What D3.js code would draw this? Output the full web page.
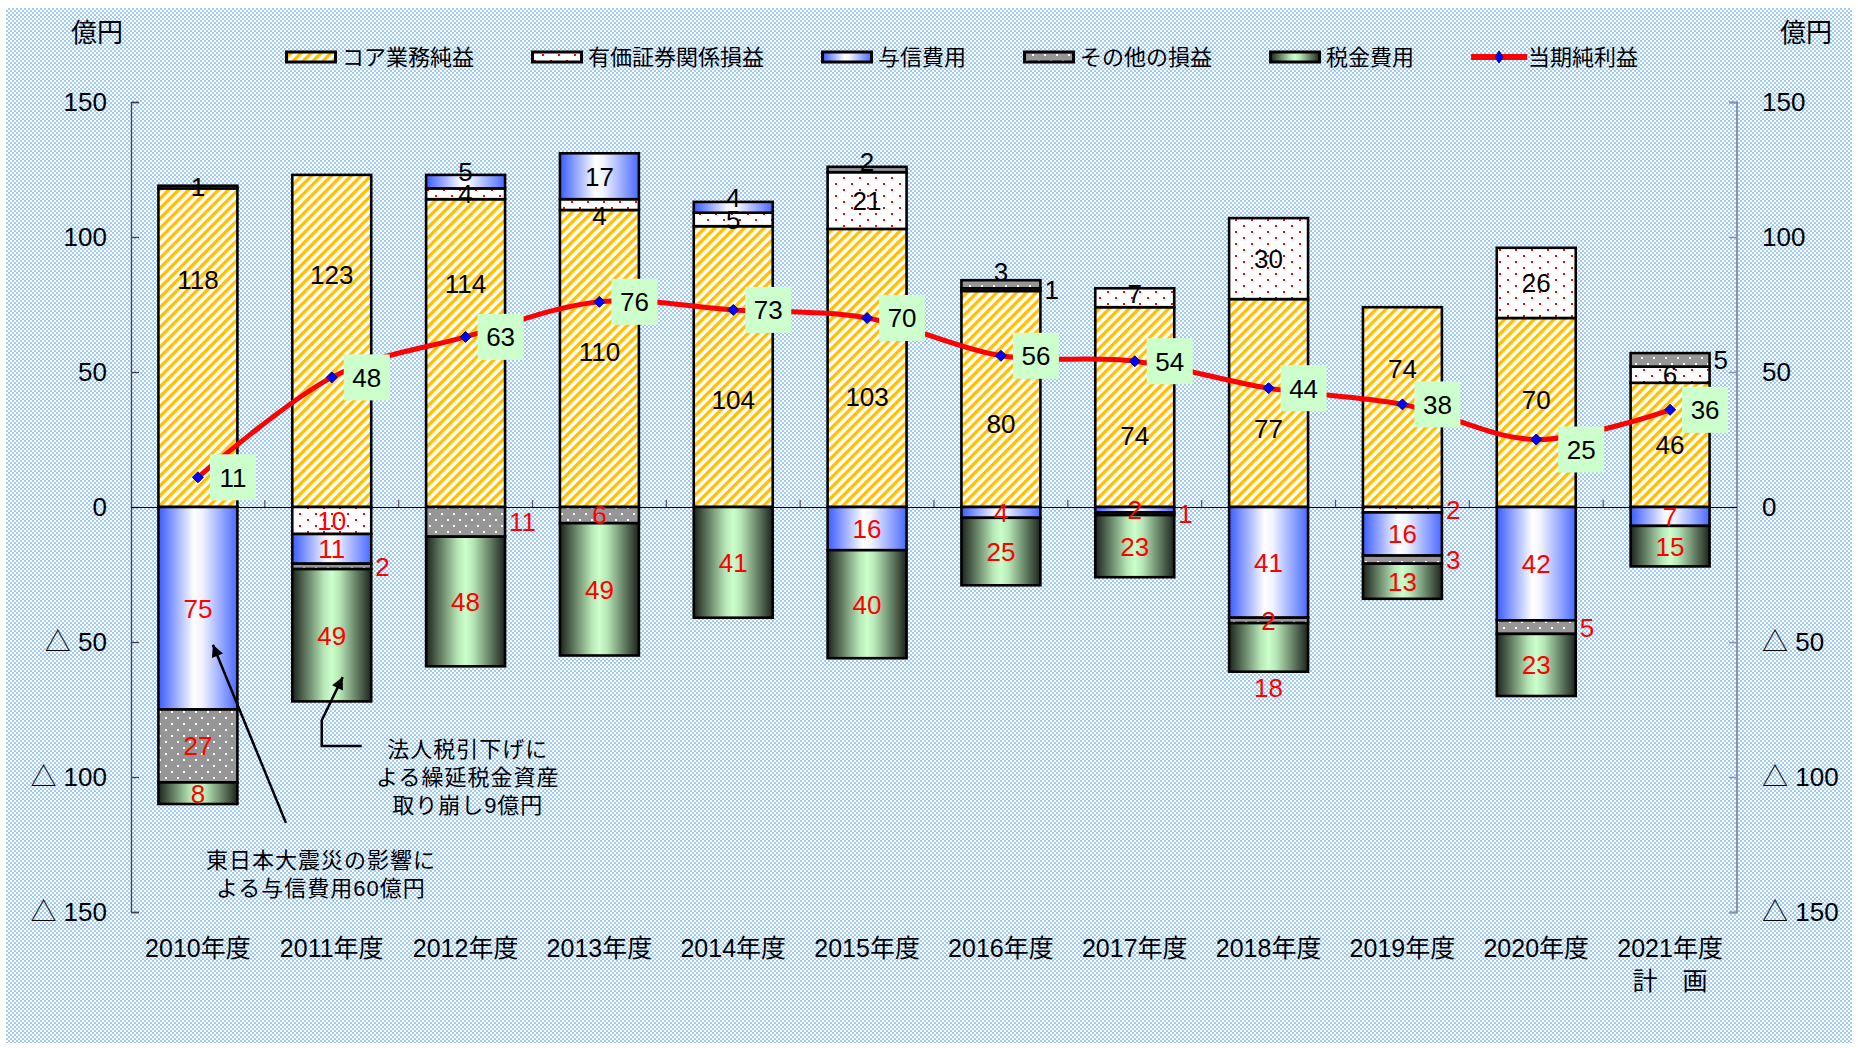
<!DOCTYPE html>
<html><head><meta charset="utf-8">
<script src="https://cdn.jsdelivr.net/npm/d3@7"></script>
<style>html,body{margin:0;padding:0;background:#fff;}svg{display:block;}</style>
</head><body><svg id="c" width="1858" height="1048"></svg>
<script>
// ---------- data ----------
const years = ["2010年度","2011年度","2012年度","2013年度","2014年度","2015年度","2016年度","2017年度","2018年度","2019年度","2020年度","2021年度"];
const yearSub = ["","","","","","","","","","","","計　画"];
const core       = [118,123,114,110,104,103,80,74,77,74,70,46];
const securities = [1,-10,4,4,5,21,1,7,30,-2,26,6];
const credit     = [-75,-11,5,17,4,-16,-4,-2,-41,-16,-42,-7];
const other      = [-27,-2,-11,-6,0,2,3,-1,-2,-3,-5,5];
const tax        = [-8,-49,-48,-49,-41,-40,-25,-23,-18,-13,-23,-15];
const netIncome  = [11,48,63,76,73,70,56,54,44,38,25,36];
const tickValues = [-150,-100,-50,0,50,100,150];
const tickLabels = ["△ 150","△ 100","△ 50","0","50","100","150"];
const legendNames = ["コア業務純益","有価証券関係損益","与信費用","その他の損益","税金費用","当期純利益"];
const unitLabel = "億円";
const note1 = ["法人税引下げに","よる繰延税金資産","取り崩し9億円"];
const note2 = ["東日本大震災の影響に","よる与信費用60億円"];

// label placement (layout only): exceptions keyed yearIndex-seriesIndex
const labelPlacement = {"1-3":"right","2-3":"right","6-1":"right","7-3":"right","9-1":"right","9-3":"right","10-3":"right","11-3":"right","8-4":"below"};
const labelNudge = {"0-0":-68,"1-0":-66,"2-0":-69,"3-0":-7,"4-0":33,"5-0":29,"6-0":25,"7-0":29,"8-0":26,"9-0":-38,"10-0":-13,
  "2-2":-10,"3-1":11,"4-2":-10,"5-3":-8,"6-3":-13,"7-1":-4};
const netLabelShift = {10:[10,10]};

// ---------- setup ----------
const svg = d3.select("#c");
const NUM = "'Liberation Sans','Noto Sans CJK JP',sans-serif";
const JP = "'Noto Sans CJK JP',sans-serif";
const defs = svg.append("defs");

// background pattern
const bg = defs.append("pattern").attr("id","bgp").attr("width",4).attr("height",4).attr("patternUnits","userSpaceOnUse");
bg.append("rect").attr("width",4).attr("height",4).attr("fill","#ffffff");
bg.append("rect").attr("x",0).attr("y",0).attr("width",2).attr("height",2).attr("fill","#9fcbf6");
bg.append("rect").attr("x",2).attr("y",2).attr("width",2).attr("height",2).attr("fill","#9fcbf6");

// core: diagonal stripes
const pc = defs.append("pattern").attr("id","pCore").attr("width",7).attr("height",7)
  .attr("patternUnits","userSpaceOnUse").attr("patternTransform","rotate(45)");
pc.append("rect").attr("width",7).attr("height",7).attr("fill","#ffffff");
pc.append("rect").attr("width",3.4).attr("height",7).attr("fill","#ffc000");

// securities: red dots on white
const ps = defs.append("pattern").attr("id","pSec").attr("width",16).attr("height",12).attr("patternUnits","userSpaceOnUse");
ps.append("rect").attr("width",16).attr("height",12).attr("fill","#ffffff");
ps.append("rect").attr("x",3).attr("y",3).attr("width",2).attr("height",2).attr("fill","#ff0000");
ps.append("rect").attr("x",11).attr("y",9).attr("width",2).attr("height",2).attr("fill","#ff0000");

// other: gray with white dots
const po = defs.append("pattern").attr("id","pOther").attr("width",12).attr("height",12).attr("patternUnits","userSpaceOnUse");
po.append("rect").attr("width",12).attr("height",12).attr("fill","#969696");
po.append("rect").attr("x",3).attr("y",3).attr("width",2).attr("height",2).attr("fill","#ffffff");
po.append("rect").attr("x",9).attr("y",9).attr("width",2).attr("height",2).attr("fill","#ffffff");

// credit: blue-white-blue gradient
const gb = defs.append("linearGradient").attr("id","gCredit").attr("x1",0).attr("x2",1).attr("y1",0).attr("y2",0);
[[0,"#3a5cff"],[0.45,"#ffffff"],[0.55,"#f2f4ff"],[1,"#4a6aff"]].forEach(s=>gb.append("stop").attr("offset",s[0]).attr("stop-color",s[1]));
// tax: dark-green-dark gradient
const gg = defs.append("linearGradient").attr("id","gTax").attr("x1",0).attr("x2",1).attr("y1",0).attr("y2",0);
[[0,"#1c241c"],[0.4,"#b6e6b6"],[0.5,"#ccffcc"],[0.6,"#b6e6b6"],[1,"#1c241c"]].forEach(s=>gg.append("stop").attr("offset",s[0]).attr("stop-color",s[1]));

const fills = ["url(#pCore)","url(#pSec)","url(#gCredit)","url(#pOther)","url(#gTax)"];

// arrow marker
defs.append("marker").attr("id","arr").attr("viewBox","0 0 10 10").attr("refX",10).attr("refY",5)
  .attr("markerWidth",16).attr("markerHeight",12).attr("markerUnits","userSpaceOnUse").attr("orient","auto")
  .append("path").attr("d","M0,0 L10,5 L0,10 z").attr("fill","#000");

svg.append("rect").attr("x",6).attr("y",8).attr("width",1846).attr("height",1035).attr("fill","url(#bgp)");

// scales
const x = d3.scaleBand().domain(years).range([131,1737]).paddingInner(0.41).paddingOuter(0.205);
const y = d3.scaleLinear().domain([-150,150]).range([912,102]);
const xc = i => x(years[i]) + x.bandwidth()/2;

// axes
const gl = svg.append("g").attr("transform","translate(131,0)").call(d3.axisRight(y).tickValues(tickValues).tickSize(8).tickFormat(""));
gl.select(".domain").attr("stroke","#404040").attr("stroke-width",1.3).attr("d","M8,102.5H0.5V912.5H8");
gl.selectAll(".tick line").attr("stroke","#404040").attr("stroke-width",1.3);
const gr = svg.append("g").attr("transform","translate(1737,0)").call(d3.axisLeft(y).tickValues(tickValues).tickSize(8).tickFormat(""));
gr.select(".domain").attr("stroke","#8a94a6").attr("stroke-width",2).attr("d","M-8,102.5H0V912.5H-8");
gr.selectAll(".tick line").attr("stroke","#8a94a6").attr("stroke-width",1.5);

// tick labels
svg.append("g").selectAll("text").data(tickValues).join("text")
  .attr("x",107).attr("y",d=>y(d)).attr("dy","0.36em").attr("text-anchor","end")
  .attr("font-family",NUM).attr("font-size",26).attr("fill","#000")
  .text((d,i)=>tickLabels[i]);
svg.append("g").selectAll("text").data(tickValues).join("text")
  .attr("x",1762).attr("y",d=>y(d)).attr("dy","0.36em").attr("text-anchor","start")
  .attr("font-family",NUM).attr("font-size",26).attr("fill","#000")
  .text((d,i)=>tickLabels[i]);

// unit labels
svg.append("text").attr("x",97).attr("y",33).attr("dy","0.36em").attr("text-anchor","middle")
  .attr("font-family",JP).attr("font-size",26).text(unitLabel);
svg.append("text").attr("x",1806).attr("y",33).attr("dy","0.36em").attr("text-anchor","middle")
  .attr("font-family",JP).attr("font-size",26).text(unitLabel);

// zero line + category ticks
svg.append("line").attr("x1",131).attr("x2",1737).attr("y1",y(0)+0.5).attr("y2",y(0)+0.5).attr("stroke","#000").attr("stroke-width",1.2);
svg.append("g").selectAll("line").data(d3.range(1,12)).join("line")
  .attr("x1",i=>131+i*x.step()).attr("x2",i=>131+i*x.step()).attr("y1",y(0)).attr("y2",y(0)-7)
  .attr("stroke","#555").attr("stroke-width",1.2);

// stacking
const seriesVals = [core,securities,credit,other,tax];
const segs = [];
years.forEach((yr,i)=>{
  let pos=0,neg=0;
  seriesVals.forEach((arr,k)=>{
    const v = arr[i]; if(!v) return;
    let y0,y1;
    if(v>0){y0=pos;y1=pos+v;pos=y1;} else {y0=neg;y1=neg+v;neg=y1;}
    segs.push({i,k,v,y0,y1});
  });
});
const barBottom = years.map((d,i)=>d3.min(segs.filter(s=>s.i===i),s=>Math.min(s.y0,s.y1)));

svg.append("g").selectAll("rect").data(segs).join("rect")
  .attr("x",d=>x(years[d.i])).attr("width",x.bandwidth())
  .attr("y",d=>y(Math.max(d.y0,d.y1))).attr("height",d=>Math.abs(y(d.y0)-y(d.y1)))
  .attr("fill",d=>fills[d.k]).attr("stroke","#000").attr("stroke-width",2.6);

// segment labels
const key = d => d.i+"-"+d.k;
svg.append("g").selectAll("text").data(segs).join("text")
  .attr("x",d=>labelPlacement[key(d)]==="right"? x(years[d.i])+x.bandwidth()+4 : xc(d.i))
  .attr("y",d=>(labelPlacement[key(d)]==="below"? y(barBottom[d.i])+16 : y((d.y0+d.y1)/2)) + (labelNudge[key(d)]||0))
  .attr("dy","0.36em")
  .attr("text-anchor",d=>labelPlacement[key(d)]==="right"?"start":"middle")
  .attr("font-family",NUM).attr("font-size",26)
  .attr("fill",d=>d.v>0?"#000":"#ff0000")
  .text(d=>Math.abs(d.v));

// net income line
const line = d3.line().x((d,i)=>xc(i)).y(d=>y(d)).curve(d3.curveCatmullRom.alpha(0));
svg.append("path").datum(netIncome).attr("d",line).attr("fill","none").attr("stroke","#ff0000").attr("stroke-width",5);
svg.append("g").selectAll("path").data(netIncome).join("path")
  .attr("transform",(d,i)=>`translate(${xc(i)},${y(d)})`)
  .attr("d","M0,-5.5L5.5,0L0,5.5L-5.5,0Z").attr("fill","#0000ff").attr("stroke","#000080").attr("stroke-width",1);

// net labels
const nl = svg.append("g").selectAll("g").data(netIncome).join("g")
  .attr("transform",(d,i)=>{const s=netLabelShift[i]||[0,0]; return `translate(${xc(i)+35+s[0]},${y(d)+s[1]})`;});
nl.append("rect").attr("x",-23).attr("y",-23).attr("width",46).attr("height",46).attr("fill","#ccffcc");
nl.append("text").attr("dy","0.36em").attr("text-anchor","middle").attr("font-family",NUM).attr("font-size",26).text(d=>d);

// category labels
const cat = svg.append("g").selectAll("g").data(years).join("g");
cat.append("text").attr("x",(d,i)=>xc(i)).attr("y",948).attr("dy","0.36em").attr("text-anchor","middle")
  .attr("font-family",NUM).attr("font-size",25).text(d=>d);
cat.append("text").attr("x",(d,i)=>xc(i)).attr("y",981).attr("dy","0.36em").attr("text-anchor","middle")
  .attr("font-family",JP).attr("font-size",25).text((d,i)=>yearSub[i]);

// legend
const lg = svg.append("g").attr("transform","translate(285,57)");
let lx = 0;
legendNames.forEach((name,k)=>{
  const g = lg.append("g").attr("transform",`translate(${lx},0)`);
  if(k<5){
    g.append("rect").attr("x",1.5).attr("y",-5).attr("width",49).attr("height",10).attr("fill",fills[k]).attr("stroke","#000").attr("stroke-width",3);
  } else {
    g.append("line").attr("x1",0).attr("x2",56).attr("y1",0).attr("y2",0).attr("stroke","#ff0000").attr("stroke-width",6);
    g.append("path").attr("transform","translate(28,0)").attr("d","M0,-6L4,0L0,6L-4,0Z").attr("fill","#0000ff").attr("stroke","#000080");
  }
  const t = g.append("text").attr("x",57).attr("y",0).attr("dy","0.36em").attr("font-family",JP).attr("font-size",22).text(name);
  lx += 57 + t.node().getComputedTextLength() + 57;
});

// annotations
const ann = svg.append("g");
ann.append("path").attr("d",d3.line()([[xc(1)+30,y(-88.5)],[xc(1)-10,y(-88.5)],[xc(1)-10,y(-79)],[xc(1)+11,y(-63)]]))
  .attr("fill","none").attr("stroke","#000").attr("stroke-width",2.5).attr("marker-end","url(#arr)");
ann.append("path").attr("d",d3.line()([[xc(0)+88,y(-117)],[xc(0)+15,y(-51)]]))
  .attr("fill","none").attr("stroke","#000").attr("stroke-width",2.5).attr("marker-end","url(#arr)");
ann.append("g").selectAll("text").data(note1).join("text")
  .attr("x",xc(1)+136).attr("y",(d,i)=>749+i*28).attr("dy","0.36em").attr("text-anchor","middle")
  .attr("font-family",NUM).attr("font-size",22).attr("letter-spacing",1).text(d=>d);
ann.append("g").selectAll("text").data(note2).join("text")
  .attr("x",xc(0)+123).attr("y",(d,i)=>860+i*28).attr("dy","0.36em").attr("text-anchor","middle")
  .attr("font-family",NUM).attr("font-size",22).attr("letter-spacing",1).text(d=>d);
</script></body></html>
